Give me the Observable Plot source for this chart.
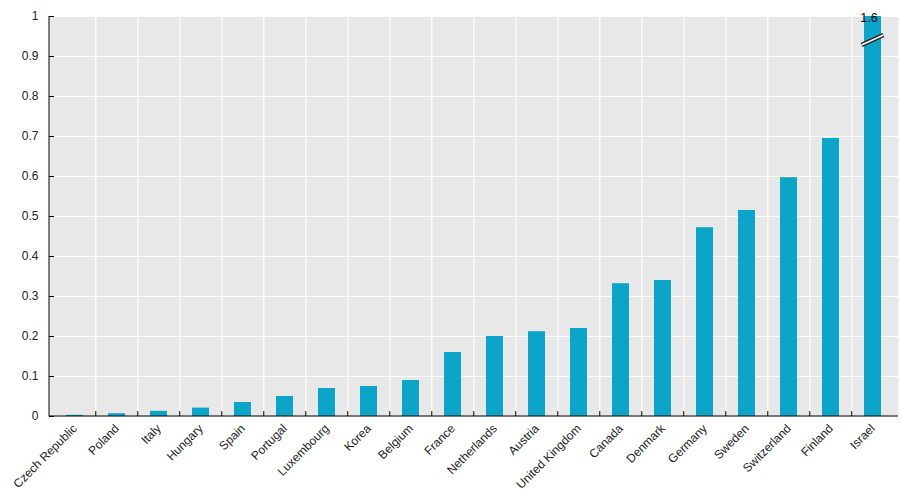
<!DOCTYPE html>
<html><head><meta charset="utf-8">
<script src="https://cdn.jsdelivr.net/npm/d3@7"></script>
<script src="https://cdn.jsdelivr.net/npm/@observablehq/plot@0.6"></script>
<style>
body{margin:0;background:#fff;}
#chart svg{font-family:"Liberation Sans",Arial,sans-serif;display:block;}
</style>
</head><body><div id="chart"></div>
<script>
const countries = ["Czech Republic","Poland","Italy","Hungary","Spain","Portugal","Luxembourg","Korea","Belgium","France","Netherlands","Austria","United Kingdom","Canada","Denmark","Germany","Sweden","Switzerland","Finland","Israel"];
const values = [0.003,0.007,0.013,0.021,0.035,0.05,0.07,0.075,0.09,0.16,0.2,0.212,0.22,0.332,0.34,0.472,0.515,0.597,0.695,1.6];
const yTicks = [0,0.1,0.2,0.3,0.4,0.5,0.6,0.7,0.8,0.9,1];
const yTickLabels = ["0","0.1","0.2","0.3","0.4","0.5","0.6","0.7","0.8","0.9","1"];
const breakCountry = "Israel";
const breakLabel = "1.6";
const breakAt = 0.94;

const data = countries.map((c, i) => ({country: c, value: values[i]}));

const W = 901, H = 491, ml = 49, mr = 3, mt = 16, mb = 75;
const step = (W - ml - mr) / countries.length;
const plotW = W - ml - mr, plotH = H - mt - mb;

function overlay(index, scales, vals, dims, context) {
  const g = d3.create("svg:g");
  const x0 = dims.marginLeft, x1 = dims.width - dims.marginRight;
  const y0 = dims.marginTop, y1 = dims.height - dims.marginBottom;
  // axis lines
  g.append("line").attr("x1", x0).attr("x2", x0).attr("y1", y0).attr("y2", y1 + 0.5).attr("stroke", "#000");
  g.append("line").attr("x1", x0).attr("x2", x1).attr("y1", y1).attr("y2", y1).attr("stroke", "#000");
  // break symbol
  const xs = scales.x;
  const bw = xs.bandwidth ? xs.bandwidth() : 0;
  const cx = xs(breakCountry) + bw / 2;
  const cy = scales.y(breakAt);
  const dxh = 11, dyh = 5;
  const p = `M${cx - dxh},${cy + dyh}L${cx + dxh},${cy - dyh}`;
  g.append("path").attr("d", p).attr("stroke", "#222").attr("stroke-width", 4.2).attr("fill", "none");
  g.append("path").attr("d", p).attr("stroke", "#fff").attr("stroke-width", 1.6).attr("fill", "none");
  return g.node();
}

const chart = Plot.plot({
  width: W, height: H,
  marginLeft: ml, marginRight: mr, marginTop: mt, marginBottom: mb,
  style: {fontFamily: "'Liberation Sans', Arial, sans-serif", fontSize: "12px", color: "#222", background: "#fff"},
  x: {domain: countries, paddingInner: 0.6, paddingOuter: 0.3, label: null},
  y: {domain: [0, 1], clamp: true, label: null},
  marks: [
    Plot.frame({fill: "#e8e8e8", stroke: null}),
    Plot.ruleY(yTicks.slice(1), {stroke: "#fff", strokeWidth: 1.2}),
    Plot.ruleX(countries.slice(1), {stroke: "#fff", strokeWidth: 1.2, dx: -step / 2}),
    Plot.barY(data, {x: "country", y: "value", fill: "#0aa5c9"}),
    Plot.ruleY(yTicks, {stroke: "#000", insetRight: plotW - 5}),
    Plot.ruleX(countries.slice(1), {stroke: "#000", dx: -step / 2, insetTop: plotH - 5}),
    Plot.axisY({ticks: yTicks, tickFormat: (d, i) => yTickLabels[i], tickSize: 0, tickPadding: 11, fontSize: 12, fill: "#222", label: null}),
    Plot.axisX({tickSize: 0, tickRotate: -45, tickPadding: 10, fontSize: 12, fill: "#222", label: null}),
    overlay,
    Plot.text([{country: breakCountry, value: 1}], {x: "country", y: "value", text: () => breakLabel, dx: -4, dy: 1, fontSize: 12.5, fill: "#000"})
  ]
});
document.getElementById("chart").appendChild(chart);
</script>
</body></html>
